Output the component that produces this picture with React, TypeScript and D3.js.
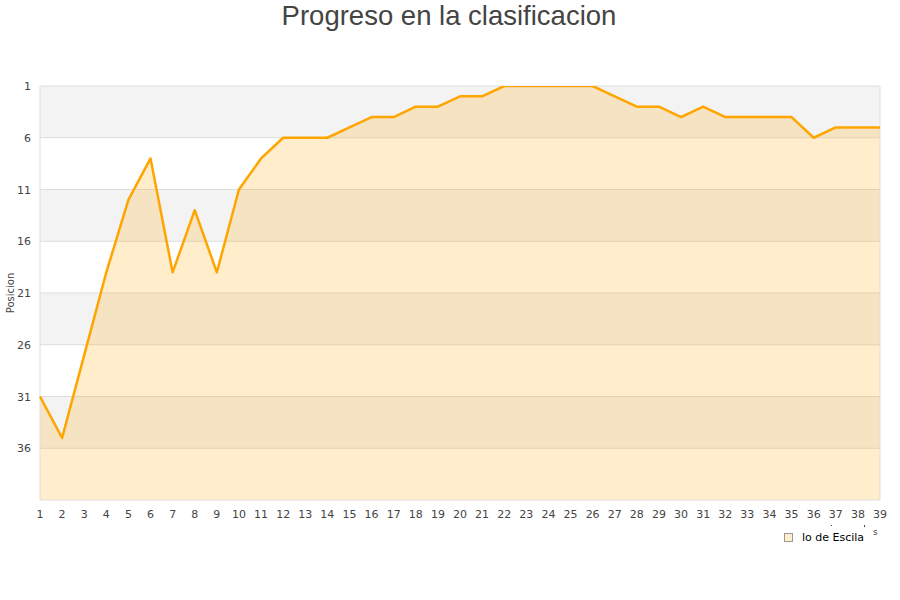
import React from "react";
import * as d3 from "d3";

const jornadas = [
  1, 2, 3, 4, 5, 6, 7, 8, 9, 10, 11, 12, 13, 14, 15, 16, 17, 18, 19, 20,
  21, 22, 23, 24, 25, 26, 27, 28, 29, 30, 31, 32, 33, 34, 35, 36, 37, 38, 39,
];
const posiciones = [
  31, 35, 27, 19, 12, 8, 19, 13, 19, 11, 8, 6, 6, 6, 5, 4, 4, 3, 3, 2,
  2, 1, 1, 1, 1, 1, 2, 3, 3, 4, 3, 4, 4, 4, 4, 6, 5, 5, 5,
];
const yTicks = [1, 6, 11, 16, 21, 26, 31, 36];
const title = "Progreso en la clasificacion";
const yLabel = "Posicion";
const legendLabel = "lo de Escila";

export default function App() {
  const W = 900;
  const H = 600;
  const left = 40;
  const right = 880;
  const top = 86;
  const bottom = 500;
  const x = d3.scaleLinear().domain([1, 39]).range([left, right]);
  const y = d3.scaleLinear().domain([1, 41]).range([top, bottom]);
  const data = jornadas.map((j, i) => ({ j, p: posiciones[i] }));
  const line = d3
    .line<{ j: number; p: number }>()
    .x((d) => x(d.j))
    .y((d) => y(d.p));
  const area = d3
    .area<{ j: number; p: number }>()
    .x((d) => x(d.j))
    .y0(y(41))
    .y1((d) => y(d.p));
  const bands = [1, 11, 21, 31];
  return (
    <svg
      width={W}
      height={H}
      style={{ position: "absolute", left: 0, top: 0, background: "#fff" }}
      fontFamily="DejaVu Sans, sans-serif"
    >
      <defs>
        <clipPath id="plotclip">
          <rect x={left - 2} y={top} width={right - left + 4} height={bottom - top + 2} />
        </clipPath>
      </defs>
      <text
        x={449}
        y={25}
        textAnchor="middle"
        fontFamily="Liberation Sans, Arial, sans-serif"
        fontSize={27.5}
        fill="#444"
      >
        {title}
      </text>
      {bands.map((b) => (
        <rect
          key={b}
          x={left}
          y={y(b)}
          width={right - left}
          height={y(b + 5) - y(b)}
          fill="#f3f3f3"
        />
      ))}
      {yTicks.map((t) => (
        <line
          key={t}
          x1={left}
          x2={right}
          y1={y(t)}
          y2={y(t)}
          stroke="#dddddd"
          strokeWidth={1}
        />
      ))}
      <path d={area(data) || ""} fill="#ffa500" fillOpacity={0.2} />
      <line x1={left} x2={left} y1={top} y2={bottom} stroke="#dddddd" />
      <line x1={right} x2={right} y1={top} y2={bottom} stroke="#dddddd" />
      <line x1={left} x2={right} y1={bottom} y2={bottom} stroke="#dddddd" />
      <g clipPath="url(#plotclip)">
        <path
          d={line(data) || ""}
          fill="none"
          stroke="#ffa500"
          strokeWidth={2.5}
          strokeLinejoin="round"
        />
      </g>
      {yTicks.map((t) => (
        <text
          key={t}
          x={31}
          y={y(t) + 4}
          textAnchor="end"
          fontSize={11}
          fill="#444"
        >
          {t}
        </text>
      ))}
      {jornadas.map((j) => (
        <text
          key={j}
          x={x(j)}
          y={518}
          textAnchor="middle"
          fontSize={11}
          fill="#444"
        >
          {j}
        </text>
      ))}
      <text
        transform={`translate(14,${(top + bottom) / 2}) rotate(-90)`}
        textAnchor="middle"
        fontSize={10}
        fill="#444"
      >
        {yLabel}
      </text>
      <rect
        x={784.5}
        y={533.5}
        width={8}
        height={8}
        fill="#ffeecc"
        stroke="#999"
        strokeWidth={1}
      />
      <text x={802} y={541} fontSize={11} fill="#000">
        {legendLabel}
      </text>
      <text x={873} y={535} fontSize={9} fill="#444">
        s
      </text>
      <rect x={831} y={525} width={1} height={1} fill="#444" />
      <rect x={864} y={525} width={1} height={2} fill="#444" />
    </svg>
  );
}
